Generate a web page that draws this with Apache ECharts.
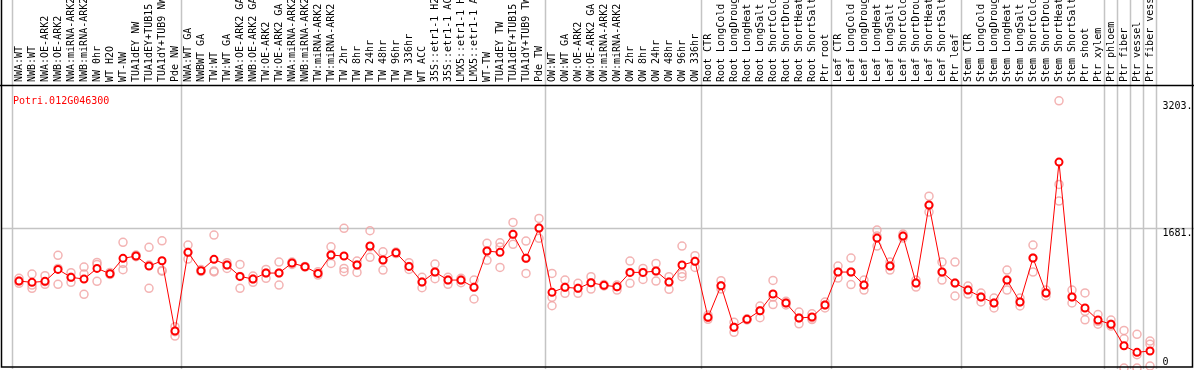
<!DOCTYPE html>
<html>
<head>
<meta charset="utf-8">
<script src="https://cdn.jsdelivr.net/npm/echarts@6/dist/echarts.min.js"></script>
<style>
html, body { margin: 0; padding: 0; background: #fff; }
#chart { width: 1194px; height: 370px; }
</style>
</head>
<body>
<div id="chart"></div>
<script>
const geneName = 'Potri.012G046300';

const categories = [
    'NWA:WT', 'NWB:WT', 'NWA:OE-ARK2', 'NWB:OE-ARK2', 'NWA:miRNA-ARK2', 'NWB:miRNA-ARK2',
    'NW 0hr', 'WT H2O', 'WT-NW', 'TUA1dEY NW', 'TUA1dEY+TUB15 NW', 'TUA1dY+TUB9 NW', 'Pde NW',
    'NWA:WT GA', 'NWBWT GA', 'TW:WT', 'TW:WT GA', 'NWA:OE-ARK2 GA', 'NWB:OE-ARK2 GA',
    'TW:OE-ARK2', 'TW:OE-ARK2 GA', 'NWA:miRNA-ARK2 GA', 'NWB:miRNA-ARK2 GA', 'TW:miRNA-ARK2',
    'TW:miRNA-ARK2 GA', 'TW 2hr', 'TW 8hr', 'TW 24hr', 'TW 48hr', 'TW 96hr', 'TW 336hr',
    'WT ACC', '35S::etr1-1 H2O', '35S::etr1-1 ACC', 'LMX5::etr1-1 H2O', 'LMX5::etr1-1 ACC',
    'WT-TW', 'TUA1dEY TW', 'TUA1dEY+TUB15 TW', 'TUA1dY+TUB9 TW', 'Pde TW',
    'OW:WT', 'OW:WT GA', 'OW:OE-ARK2', 'OW:OE-ARK2 GA', 'OW:miRNA-ARK2', 'OW:miRNA-ARK2 GA',
    'OW 2hr', 'OW 8hr', 'OW 24hr', 'OW 48hr', 'OW 96hr', 'OW 336hr',
    'Root CTR', 'Root LongCold', 'Root LongDrought', 'Root LongHeat', 'Root LongSalt',
    'Root ShortCold', 'Root ShortDrought', 'Root ShortHeat', 'Root ShortSalt', 'Ptr root',
    'Leaf CTR', 'Leaf LongCold', 'Leaf LongDrought', 'Leaf LongHeat', 'Leaf LongSalt',
    'Leaf ShortCold', 'Leaf ShortDrought', 'Leaf ShortHeat', 'Leaf ShortSalt', 'Ptr leaf',
    'Stem CTR', 'Stem LongCold', 'Stem LongDrought', 'Stem LongHeat', 'Stem LongSalt',
    'Stem ShortCold', 'Stem ShortDrought', 'Stem ShortHeat', 'Stem ShortSalt', 'Ptr shoot',
    'Ptr xylem', 'Ptr phloem', 'Ptr fiber', 'Ptr vessel', 'Ptr fiber vessel'
];

// number of categories in each block between the grey separators
const groupSizes = [13, 28, 12, 10, 10, 11, 1, 1, 1, 1];

// mean expression (red line)
const meanValues = [
    1042, 1027, 1039, 1182, 1087, 1066, 1194, 1130, 1314, 1342, 1222, 1285, 443,
    1386, 1166, 1302, 1234, 1098, 1066, 1138, 1138, 1258, 1214, 1134, 1354, 1342, 1234,
    1462, 1294, 1381, 1218, 1030, 1150, 1054, 1054, 967, 1402, 1386, 1602, 1314, 1677,
    907, 967, 955, 1022, 991, 974, 1146, 1146, 1162, 1030, 1234, 1278,
    607, 986, 488, 583, 686, 887, 779, 599, 611, 755,
    1150, 1150, 994, 1557, 1222, 1581, 1018, 1953, 1150, 1018,
    934, 851, 779, 1054, 791, 1318, 899, 2468, 851, 719, 575,
    524, 267, 188, 204
];

// replicates (pale circles)
const rep1 = [
    1075, 1126, 1106, 1350, 1142, 1210, 1266, 1146, 1506, 1354, 1446, 1525, 495,
    1474, 1180, 1593, 1262, 1242, 1102, 1182, 1270, 1270, 1218, 1154, 1453, 1674, 1282,
    1645, 1393, 1390, 1262, 1087, 1246, 1087, 1075, 1054, 1494, 1500, 1745, 1521, 1793,
    1134, 1054, 1015, 1094, 1000, 994, 1282, 1194, 1254, 1094, 1462, 1346,
    635, 1046, 547, 590, 743, 1050, 800, 670, 650, 790,
    1222, 1318, 1054, 1653, 1270, 1605, 1054, 2060, 1270, 1270,
    982, 899, 839, 1174, 839, 1474, 934, 3203, 934, 900, 640,
    575, 450, 404, 323
];
const rep2 = [
    1042, 994, 1034, 1193, 1087, 1126, 1242, 1126, 1254, 1346, 1234, 1170, 435,
    1386, 1160, 1162, 1234, 1098, 1066, 1138, 1138, 1258, 1214, 1134, 1354, 1194, 1234,
    1453, 1294, 1381, 1218, 1030, 1150, 1054, 1054, 967, 1402, 1450, 1602, 1314, 1677,
    847, 967, 955, 1022, 990, 974, 1146, 1146, 1162, 1030, 1134, 1278,
    607, 986, 488, 583, 686, 850, 780, 600, 600, 755,
    1150, 1150, 994, 1581, 1222, 1581, 1018, 1953, 1150, 1018,
    934, 851, 779, 1054, 791, 1318, 899, 2200, 851, 680, 560,
    524, 350, 160, 284
];
const rep3 = [
    1015, 955, 1003, 1003, 1027, 883, 1039, 1122, 1178, 1334, 955, 1160, 383,
    1306, 1158, 1151, 1194, 955, 1027, 1075, 994, 1242, 1210, 1114, 1254, 1154, 1146,
    1326, 1174, 1372, 1182, 962, 1070, 1003, 1022, 827, 1290, 1206, 1482, 1134, 1554,
    746, 895, 895, 946, 983, 934, 1015, 1062, 1042, 943, 1094, 1206,
    583, 946, 428, 576, 603, 760, 755, 530, 580, 720,
    1078, 1000, 934, 1462, 1174, 1557, 970, 1869, 1054, 863,
    886, 791, 719, 934, 743, 1150, 863, 2001, 779, 577, 525,
    503, 0, 0, 24
];

const yTicks = [0, 1681, 3203];

const monoFont = 'DejaVu Sans Mono';

var myChart = echarts.init(document.getElementById('chart'));

function repSeries(values) {
    return {
        type: 'scatter',
        symbol: 'circle',
        symbolSize: 8,
        z: 2,
        itemStyle: {
            color: 'rgba(255,255,255,0)',
            borderColor: '#f0a0a0',
            borderWidth: 1.5
        },
        data: values.map(function (v, i) { return [i, v]; })
    };
}

myChart.setOption({
    animation: false,
    backgroundColor: '#fff',
    title: {
        text: geneName,
        left: 8,
        top: 91,
        textStyle: {
            color: '#ff0000',
            fontFamily: monoFont,
            fontSize: 10,
            fontWeight: 'normal'
        }
    },
    grid: {
        left: 12.5,
        right: 37.5,
        top: 86,
        bottom: 2,
        containLabel: false,
        outerBoundsMode: 'none'
    },
    xAxis: {
        type: 'category',
        position: 'top',
        data: categories,
        boundaryGap: true,
        axisLine: { show: false },
        axisTick: { show: false },
        splitLine: { show: false },
        axisLabel: {
            interval: 0,
            rotate: 90,
            margin: 4,
            hideOverlap: false,
            color: '#000',
            fontFamily: monoFont,
            fontSize: 10
        }
    },
    yAxis: {
        type: 'value',
        position: 'right',
        min: 0,
        max: 3380,
        axisLine: { show: false },
        axisTick: { show: false },
        splitLine: { show: false },
        axisLabel: {
            customValues: yTicks,
            margin: 6,
            color: '#000',
            fontFamily: monoFont,
            fontSize: 10,
            formatter: function (v) {
                return v === 0 ? '{b|0}' : '{t|' + v + '.}';
            },
            rich: {
                t: { fontFamily: monoFont, fontSize: 10, padding: [11, 0, 0, 0] },
                b: { fontFamily: monoFont, fontSize: 10, padding: [0, 0, 12, 0] }
            }
        }
    },
    series: [
        repSeries(rep1),
        repSeries(rep2),
        repSeries(rep3),
        {
            type: 'line',
            z: 3,
            data: meanValues,
            symbol: 'emptyCircle',
            symbolSize: 7,
            lineStyle: { color: '#ff0000', width: 1 },
            itemStyle: { color: '#ff0000', borderWidth: 2 }
        }
    ]
});

// separators and frame, placed from the axes' own scales
var c0 = myChart.convertToPixel({ xAxisIndex: 0 }, 0);
var c1 = myChart.convertToPixel({ xAxisIndex: 0 }, 1);
var band = c1 - c0;
var yTop = myChart.convertToPixel({ yAxisIndex: 0 }, 3380);
var yMid = myChart.convertToPixel({ yAxisIndex: 0 }, yTicks[1]);
var W = myChart.getWidth(), H = myChart.getHeight();

var lines = [];
var edges = [0];
groupSizes.forEach(function (n) { edges.push(edges[edges.length - 1] + n); });
edges.forEach(function (k) {
    var x = Math.round(c0 + (k - 0.5) * band - 1) + 0.5;
    lines.push({
        type: 'line', z: 0, silent: true,
        shape: { x1: x, y1: 0, x2: x, y2: H - 1 },
        style: { stroke: '#c4c4c4', lineWidth: 1.5 }
    });
});
lines.push({
    type: 'line', z: 0, silent: true,
    shape: { x1: 1, y1: Math.round(yMid) + 0.5, x2: W, y2: Math.round(yMid) + 0.5 },
    style: { stroke: '#c4c4c4', lineWidth: 1.5 }
});
lines.push({
    type: 'line', z: 10, silent: true,
    shape: { x1: 0, y1: Math.round(yTop) - 0.5, x2: W, y2: Math.round(yTop) - 0.5 },
    style: { stroke: '#000', lineWidth: 1.5 }
});
lines.push({
    type: 'rect', z: 10, silent: true,
    shape: { x: 1.5, y: -2, width: W - 3, height: H + 0.5 - 1.5 },
    style: { fill: null, stroke: '#000', lineWidth: 1.5 }
});

myChart.setOption({ graphic: lines });
</script>
</body>
</html>
